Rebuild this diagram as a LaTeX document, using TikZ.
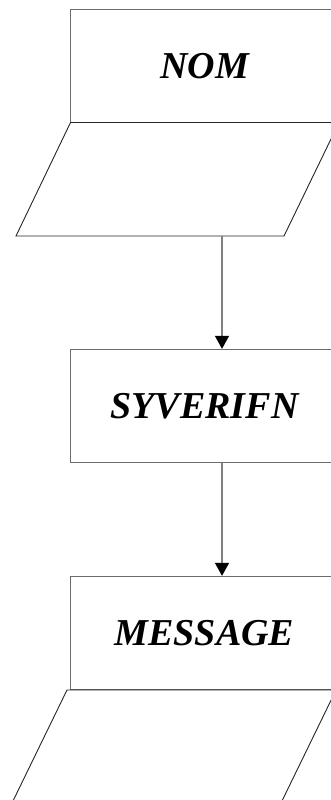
\documentclass[tikz,border=0pt]{standalone}
\usepackage{fontspec}
\setmainfont{Liberation Serif}
\usetikzlibrary{arrows.meta}
\begin{document}
\begin{tikzpicture}[x=1pt,y=-1pt,
  procbox/.style={draw=black!58, line width=1.3pt, fill=white, minimum width=268pt, minimum height=113pt, inner sep=0pt,
    font=\fontsize{38}{40}\selectfont\bfseries\itshape},
  iobox/.style={draw=black!85, line width=0.9pt},
  flow/.style={draw=black!50, line width=1.2pt, -{Triangle[width=14pt,length=13pt,black]}}]
\useasboundingbox (0,0) rectangle (331,800);
\clip (0,0) rectangle (331,800);
\fill[white] (0,0) rectangle (331,800);
% boxes
\node[procbox] (nom) at (204.5,66) {NOM};
\node[procbox] (syv) at (204.5,406) {SYVERIFN};
\node[procbox] (msg) at (204.5,633) {MESSAGE};
% parallelograms
\draw[iobox] (70.5,122.5) -- (339,122.5) -- (284,236) -- (16,236) -- cycle;
\draw[iobox] (67,690) -- (336,690) -- (281,803) -- (12,803) -- cycle;
\coordinate (p1b) at (222,236);
\coordinate (syvb) at (222,463);
% arrows
\draw[flow] (p1b) -- (p1b |- syv.north);
\draw[flow] (syvb) -- (syvb |- msg.north);
\end{tikzpicture}
\end{document}
